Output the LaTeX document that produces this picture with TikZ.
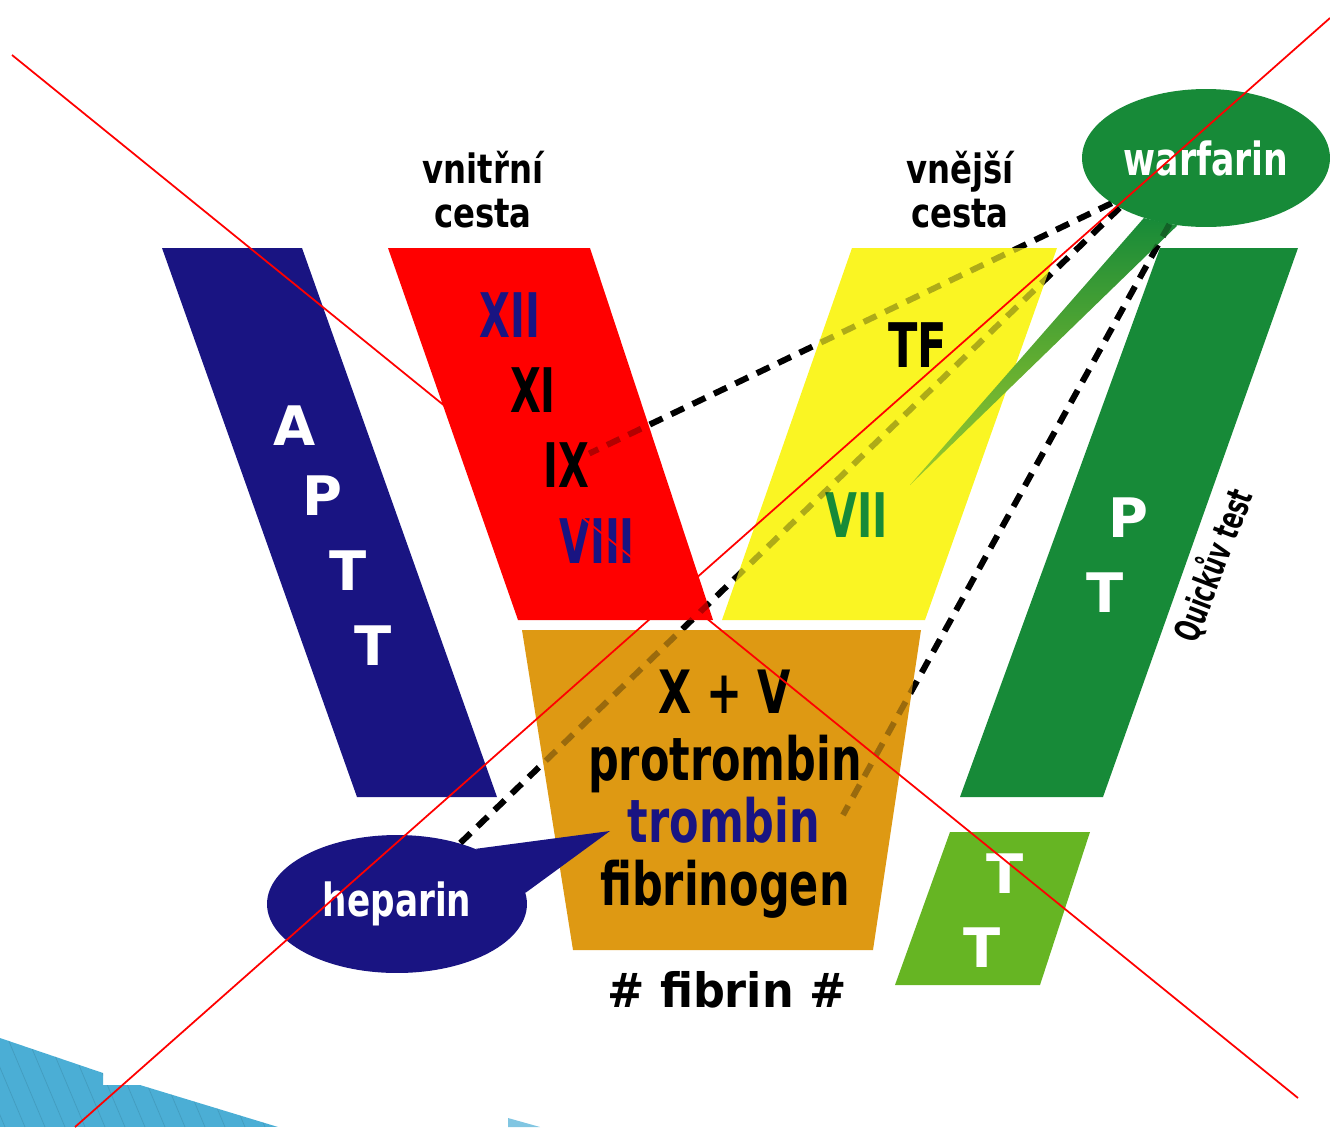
\documentclass[tikz,border=0pt]{standalone}
\usepackage{fontspec}
\setmainfont{DejaVu Sans}
\usetikzlibrary{shapes.geometric}

\definecolor{aptnavy}{HTML}{191482}
\definecolor{bandred}{HTML}{FF0000}
\definecolor{bandyellow}{HTML}{FAF523}
\definecolor{xorange}{HTML}{DE9913}
\definecolor{ptgreen}{HTML}{178A38}
\definecolor{ttgreen}{HTML}{66B523}
\definecolor{decoblue}{HTML}{4BAED5}

\pgfdeclarelayer{deco}
\pgfdeclarelayer{dashes}
\pgfdeclarelayer{bands}
\pgfsetlayers{deco,dashes,bands,main}

\newcommand{\narrowtxt}[2]{\scalebox{#1}[1]{#2}}

\begin{document}
\begin{tikzpicture}[
        x=0.02cm, y=-0.02cm,
        every node/.style={inner sep=0pt, font=\bfseries},
        dashline/.style={line width=3.4pt, dash pattern=on 8pt off 5.5pt},
        numtxt/.style={anchor=base, font=\bfseries\fontsize{35}{37}\selectfont},
        midtxt/.style={anchor=base, font=\bfseries\fontsize{34}{36}\selectfont},
        lettxt/.style={anchor=base, text=white, font=\bfseries\fontsize{31}{33}\selectfont},
        pathtxt/.style={align=center, font=\bfseries\fontsize{23}{25}\selectfont},
        callout/.style={ellipse, text=white, font=\bfseries\fontsize{26}{28}\selectfont}
      ]
        \useasboundingbox (0,0) rectangle (1330,1127);

        % slide decoration, bottom left
        \begin{pgfonlayer}{deco}
          \begin{scope}
            \clip (0,1038) -- (103,1073) -- (103,1085) -- (140,1085) -- (278,1127) -- (0,1127) -- cycle;
            \fill[decoblue] (0,1000) rectangle (300,1127);
            \foreach \x in {-120,-100,...,300}
              \draw[decoblue!70!black, opacity=.35] (\x,1020) -- (\x+45,1127);
          \end{scope}
          \fill[decoblue!70] (508,1118) -- (540,1127) -- (508,1127) -- cycle;
        \end{pgfonlayer}

        % bands
        \begin{pgfonlayer}{bands}
          \fill[aptnavy] (162,248) -- (302,248) -- (497,797) -- (357,797) -- cycle;
          \fill[bandred] (388,248) -- (590,248) -- (713,620) -- (518,620) -- cycle;
          \fill[bandyellow] (852,248) -- (1057,248) -- (925,620) -- (722,620) -- cycle;
          \fill[xorange] (522,630) -- (921,630) -- (873,950) -- (573,950) -- cycle;
          \fill[ptgreen] (1160,248) -- (1298,248) -- (1103,797) -- (960,797) -- cycle;
          \fill[ttgreen] (950,832) -- (1090,832) -- (1040,985) -- (895,985) -- cycle;
        \end{pgfonlayer}

        \node[numtxt, text=aptnavy] (n_xii) at (510,337) {\narrowtxt{.65}{XII}};
        \node[numtxt] (n_xi) at (533,412) {\narrowtxt{.65}{XI}};
        \node[numtxt] (n_ix) at (566,487) {\narrowtxt{.65}{IX}};
        \node[numtxt, text=aptnavy] (n_viii) at (597,563) {\narrowtxt{.65}{VIII}};
        \node[numtxt] (n_tf) at (918,367) {\narrowtxt{.7}{TF}};
        \node[numtxt, text=ptgreen] (n_vii) at (857,537) {\narrowtxt{.67}{VII}};

        \coordinate (thr_end) at (843,815);
        \coordinate (vii_tip) at (910,485);
        \coordinate (trb_tip) at (610,831);

        % callouts
        \node[callout, fill=ptgreen, minimum width=4.96cm, minimum height=2.76cm] (warfarin) at (1206,158) {\narrowtxt{.76}{warfarin}};
        \node[callout, fill=aptnavy, minimum width=5.2cm, minimum height=2.76cm] (heparin) at (397,904) {\narrowtxt{.75}{heparin}};
        \begin{pgfonlayer}{bands}
          \shade[top color=ptgreen, bottom color=ptgreen!40!bandyellow]
            (warfarin.224) -- (vii_tip) -- (warfarin.247) -- cycle;
          \fill[aptnavy] (heparin.35) -- (trb_tip) -- (heparin.5) -- cycle;
        \end{pgfonlayer}

        % connectors, behind the bands and faint through them
        \begin{pgfonlayer}{dashes}
          \draw[dashline] (warfarin) -- (n_ix);
          \draw[dashline] (warfarin.210) -- (heparin);
          \draw[dashline] (warfarin) -- (thr_end);
        \end{pgfonlayer}
        \begin{scope}[draw opacity=.3]
          \draw[dashline] (warfarin) -- (n_ix);
          \draw[dashline] (warfarin.210) -- (heparin);
          \draw[dashline] (warfarin) -- (thr_end);
        \end{scope}

        \node[lettxt] (aptt_a) at (295,445) {A};
        \node[lettxt] (aptt_p) at (322,515) {P};
        \node[lettxt] (aptt_t1) at (348,590) {T};
        \node[lettxt] (aptt_t2) at (373,665) {T};
        \node[lettxt] (pt_p) at (1128,537) {P};
        \node[lettxt] (pt_t) at (1105,612) {T};
        \node[lettxt] (tt_t1) at (1005,893) {T};
        \node[lettxt] (tt_t2) at (982,967) {T};

        \node[midtxt] (x_v) at (725,713) {\narrowtxt{.72}{X + V}};
        \node[midtxt] (protr) at (725,780) {\narrowtxt{.72}{protrombin}};
        \node[midtxt, text=aptnavy] (trombin) at (724,842) {\narrowtxt{.72}{trombin}};
        \node[midtxt] (fibrinog) at (725,905) {\narrowtxt{.72}{fibrinogen}};
        \node[font=\bfseries\fontsize{27}{29}\selectfont] (fibrin) at (727,990) {\narrowtxt{.94}{\# fibrin \#}};

        \node[pathtxt] (vnitrni) at (483,190) {\narrowtxt{.8}{vnitřní}\\\narrowtxt{.8}{cesta}};
        \node[pathtxt] (vnejsi) at (960,190) {\narrowtxt{.8}{vnější}\\\narrowtxt{.8}{cesta}};
        \node[rotate=69, font=\bfseries\fontsize{20}{22}\selectfont] (quick) at (1213,565) {\narrowtxt{.64}{Quickův test}};

        % crossing out
        \draw[bandred, line width=1pt] (12,55) -- (1298,1098);
        \draw[bandred, line width=1pt] (1330,18) -- (75,1127);
      \end{tikzpicture}
\end{document}
